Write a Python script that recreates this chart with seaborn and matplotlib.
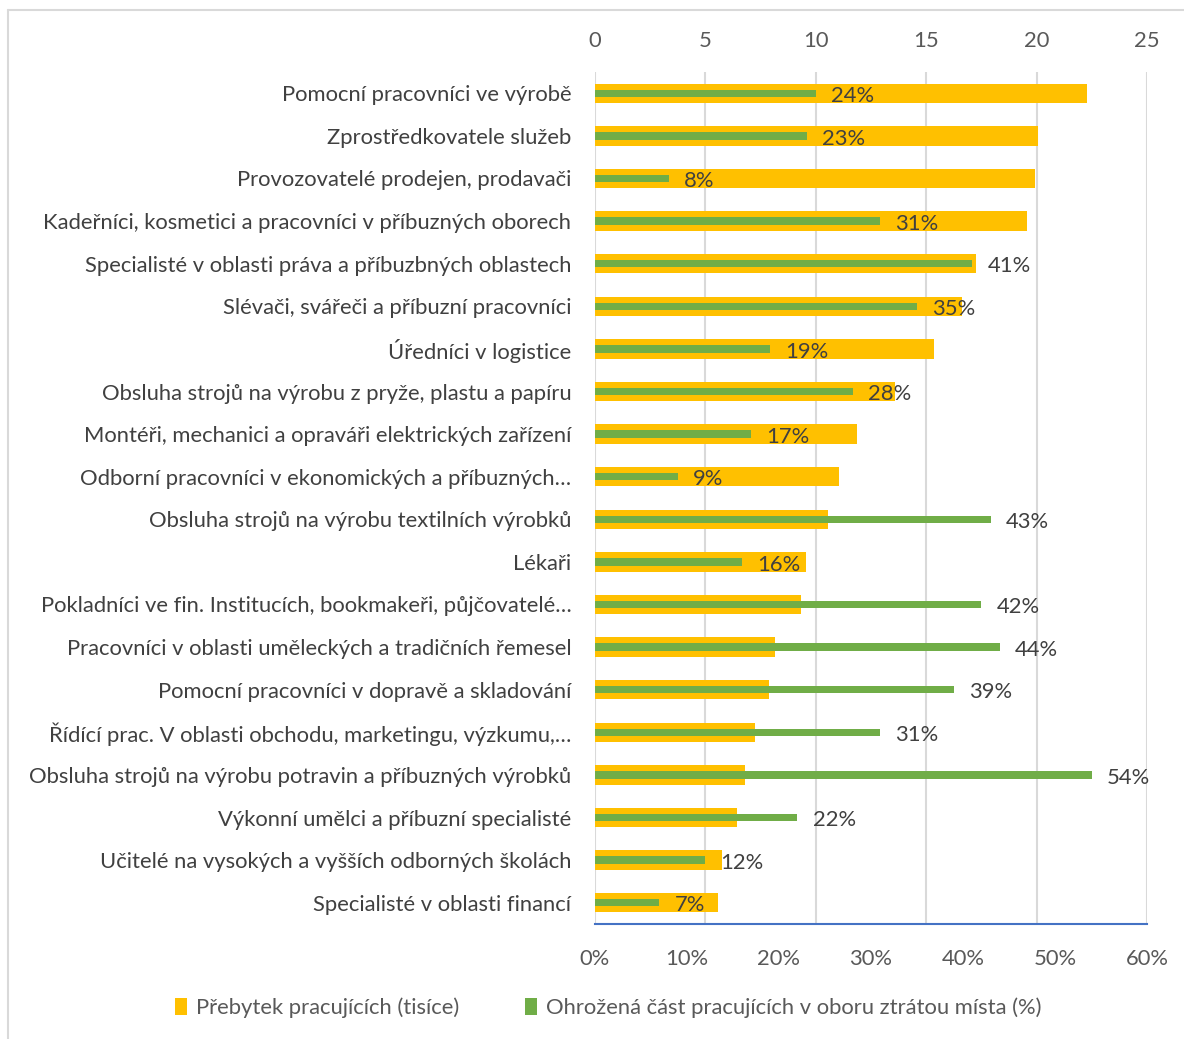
import matplotlib
matplotlib.use("Agg")
import matplotlib.pyplot as plt
import seaborn as sns
import pandas as pd
from matplotlib.lines import Line2D
from matplotlib.patches import Patch

categories = [
    "Pomocní pracovníci ve výrobě",
    "Zprostředkovatele služeb",
    "Provozovatelé prodejen, prodavači",
    "Kadeřníci, kosmetici a pracovníci v příbuzných oborech",
    "Specialisté v oblasti práva a příbuzbných oblastech",
    "Slévači, svářeči a příbuzní pracovníci",
    "Úředníci v logistice",
    "Obsluha strojů na výrobu z pryže, plastu a papíru",
    "Montéři, mechanici a opraváři elektrických zařízení",
    "Odborní pracovníci v ekonomických a příbuzných…",
    "Obsluha strojů na výrobu textilních výrobků",
    "Lékaři",
    "Pokladníci ve fin. Institucích, bookmakeři, půjčovatelé…",
    "Pracovníci v oblasti uměleckých a tradičních řemesel",
    "Pomocní pracovníci v dopravě a skladování",
    "Řídící prac. V oblasti obchodu, marketingu, výzkumu,…",
    "Obsluha strojů na výrobu potravin a příbuzných výrobků",
    "Výkonní umělci a příbuzní specialisté",
    "Učitelé na vysokých a vyšších odborných školách",
    "Specialisté v oblasti financí",
]
surplus = [22.3, 20.05, 19.95, 19.55, 17.25, 16.6, 15.35, 13.6, 11.85, 11.05,
           10.55, 9.55, 9.35, 8.15, 7.9, 7.25, 6.8, 6.45, 5.75, 5.55]
threatened = [24, 23, 8, 31, 41, 35, 19, 28, 17, 9,
              43, 16, 42, 44, 39, 31, 54, 22, 12, 7]

top_ticks = [0, 5, 10, 15, 20, 25]
bottom_ticks = [0, 10, 20, 30, 40, 50, 60]
legend_labels = ["Přebytek pracujících (tisíce)",
                 "Ohrožená část pracujících v oboru ztrátou místa (%)"]

ORANGE = "#FFC000"
GREEN = "#70AD47"
TXT = "#595959"
FS = 15.8

sns.set_theme(style="white")
plt.rcParams["font.family"] = ["Lato", "DejaVu Sans"]

df = pd.DataFrame({"cat": categories, "surplus": surplus, "thr": threatened})

fig = plt.figure(figsize=(11.84, 10.39), dpi=100)
ax = fig.add_axes([595 / 1184, 1 - 924 / 1039, 552 / 1184, 852 / 1039])
sns.barplot(data=df, y="cat", x="surplus", orient="h", color=ORANGE,
            width=0.455, saturation=1, ax=ax, linewidth=0)
ax2 = ax.twiny()
sns.barplot(data=df, y="cat", x="thr", orient="h", color=GREEN,
            width=0.17, saturation=1, ax=ax2, linewidth=0)

ax.set_xlim(0, 25)
ax.set_xticks(top_ticks)
ax.xaxis.tick_top()
ax.set_xlabel("")
ax.set_ylabel("")
ax.grid(axis="x", color="#D9D9D9", linewidth=1.5)
ax.set_axisbelow(True)
for s in ax.spines.values():
    s.set_visible(False)
ax.tick_params(axis="x", length=0, labelsize=FS, labelcolor=TXT, pad=15,
               labeltop=True, labelbottom=False)
ax.tick_params(axis="y", length=0, labelsize=FS, labelcolor="#404040", pad=17)

ax2.set_xlim(0, 60)
ax2.set_xticks(bottom_ticks)
ax2.set_xticklabels([f"{t}%" for t in bottom_ticks])
ax2.xaxis.tick_bottom()
ax2.set_xlabel("")
ax2.set_ylabel("")
for s in ax2.spines.values():
    s.set_visible(False)
ax2.spines["bottom"].set_visible(True)
ax2.spines["bottom"].set_color("#4472C4")
ax2.spines["bottom"].set_linewidth(1.5)
ax2.tick_params(axis="x", length=0, labelsize=FS, labelcolor=TXT, pad=18,
                labelbottom=True, labeltop=False)
ax2.tick_params(axis="y", length=0, labelleft=False, labelright=False)
ax2.set_ylim(19.5, -0.5)
ax.set_ylim(19.5, -0.5)

for i, v in enumerate(threatened):
    ax2.annotate(f"{v}%", xy=(v, i), xytext=(11, -2), textcoords="offset points",
                 va="center", ha="left", fontsize=FS, color="#404040")

handles = [Patch(facecolor=ORANGE, edgecolor="none"),
           Patch(facecolor=GREEN, edgecolor="none")]
fig.legend(handles, legend_labels, loc="center", bbox_to_anchor=(608 / 1184, 1 - 1008 / 1039),
           ncol=2, frameon=False, fontsize=FS, handlelength=0.55, handleheight=0.8,
           handletextpad=0.4, columnspacing=3.0, labelcolor=TXT)

fig.add_artist(Line2D([8 / 1184, 1], [1 - 10 / 1039] * 2, color="#D9D9D9", lw=1.5,
                      transform=fig.transFigure))
fig.add_artist(Line2D([8 / 1184] * 2, [0, 1 - 10 / 1039], color="#D9D9D9", lw=1.5,
                      transform=fig.transFigure))

fig.savefig("out.png", dpi=100)
